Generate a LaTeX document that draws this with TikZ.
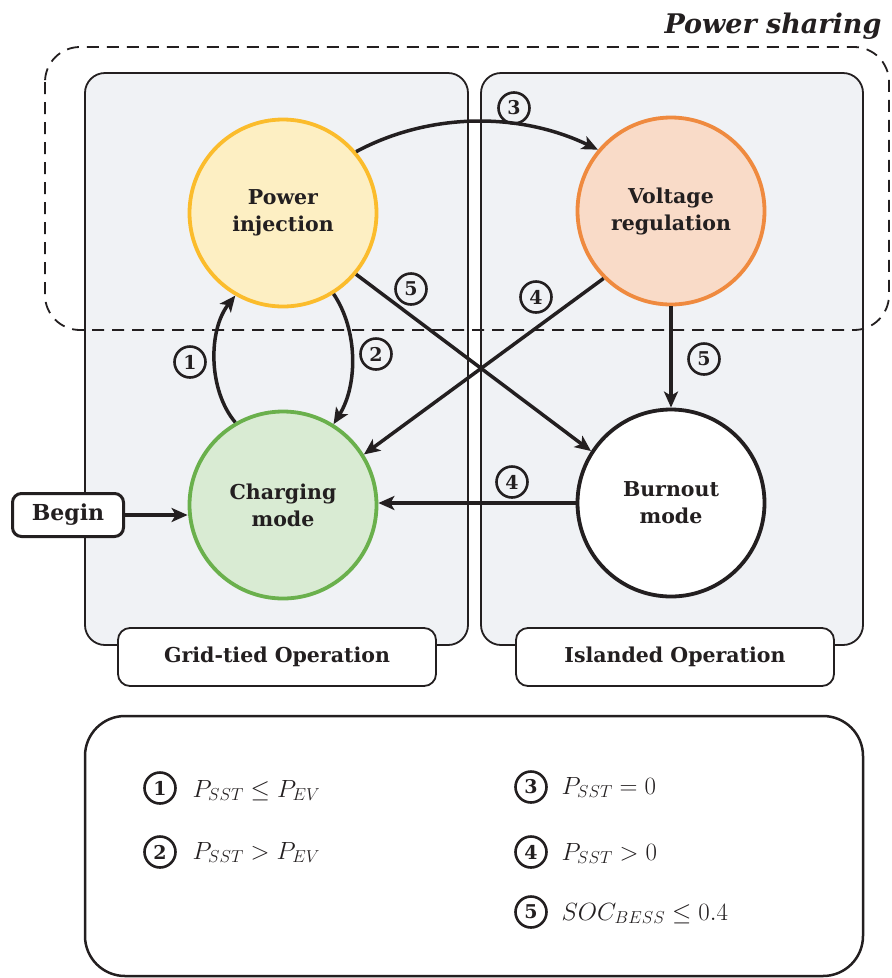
\documentclass[tikz,border=0pt]{standalone}
\usepackage[no-math]{fontspec}
\setmainfont{DejaVu Serif}
\usepackage{xcolor}
\usepackage{tikz}
\usetikzlibrary{arrows.meta,positioning}
\definecolor{PanelGray}{HTML}{F0F2F5}
\definecolor{InkDark}{HTML}{231F20}
\definecolor{InjFill}{HTML}{FDEFC3}
\definecolor{InjLine}{HTML}{FBBC2C}
\definecolor{VolFill}{HTML}{F9DBC8}
\definecolor{VolLine}{HTML}{EF8A3F}
\definecolor{ChgFill}{HTML}{D9EBD3}
\definecolor{ChgLine}{HTML}{6AB04C}
\tikzset{
  mode/.style={circle, draw, line width=3.8pt, minimum size=187pt, inner sep=0pt, align=center, font=\bfseries\fontsize{20.5}{27}\selectfont, text=InkDark},
  cond/.style={circle, draw=InkDark, line width=2.6pt, minimum size=31pt, inner sep=0pt, font=\bfseries\fontsize{19}{19}\selectfont, text=InkDark},
  trans/.style={draw=InkDark, line width=3.5pt, -{Stealth[length=16pt, width=14pt, inset=4pt]}},
  panel/.style={draw=InkDark, line width=1.8pt, fill=PanelGray, rounded corners=20pt},
  tag/.style={draw=InkDark, line width=1.8pt, fill=white, rounded corners=12pt, minimum width=318pt, minimum height=58pt, font=\bfseries\fontsize{20.5}{24}\selectfont, text=InkDark},
  eqn/.style={anchor=base west, font=\fontsize{26}{30}\selectfont, text=InkDark}
}

\begin{document}
\begin{tikzpicture}[x=1pt,y=-1pt]
\useasboundingbox (0,0) rectangle (892,978);

\draw[panel] (85,73) rectangle (468,645);
\draw[panel] (481,73) rectangle (863,645);

\node[tag] (grid) at (277,657) {Grid-tied Operation};
\node[tag] (island) at (675,657) {Islanded Operation};

\draw[InkDark, line width=1.8pt, dash pattern=on 12pt off 8pt, rounded corners=35pt] (45,47) rectangle (889,330);
\node[anchor=base east, font=\bfseries\itshape\fontsize{27}{30}\selectfont, text=InkDark] (share) at (885,33) {Power sharing};

\node[mode, draw=InjLine, fill=InjFill] (inj) at (283,213) {Power\\injection};
\node[mode, draw=VolLine, fill=VolFill] (volt) at (671,211) {Voltage\\regulation};
\node[mode, draw=ChgLine, fill=ChgFill] (chg) at (283,505) {Charging\\mode};
\node[mode, draw=InkDark, fill=white] (burn) at (671,503) {Burnout\\mode};

\node[draw=InkDark, line width=3pt, fill=white, rounded corners=9pt, minimum width=111pt, minimum height=43pt, inner sep=0pt, font=\bfseries\fontsize{22}{24}\selectfont, text=InkDark] (begin) at (68,515) {Begin};

\draw[trans] (begin) -- (chg.west |- begin);
\draw[trans] (inj.40) .. controls (430,112) and (520,112) .. (volt.140);
\draw[trans] (chg.120) .. controls (208,390) and (208,330) .. (inj.240);
\draw[trans] (inj.302) .. controls (358,330) and (358,385) .. (chg.58);
\draw[trans] (inj.-40) -- (burn.147);
\draw[trans] (volt.225) -- (chg.32);
\draw[trans] (volt) -- (burn);
\draw[trans] (burn.west) -- (chg.east |- burn.west);

\node[cond] (c3) at (514,108) {3};
\node[cond] (c5a) at (411,289) {5};
\node[cond] (c4a) at (536,297) {4};
\node[cond] (c5b) at (704,359) {5};
\node[cond] (c4b) at (512,482) {4};
\node[cond] (c1) at (190,362) {1};
\node[cond] (c2) at (376,354) {2};

\draw[InkDark, line width=2.5pt, rounded corners=40pt] (85,716) rectangle (863,976);

\node[cond] (k1) at (160,788) {1};
\node[eqn] (e1) at (189,797) {$P_{SST} \le P_{EV}$};
\node[cond] (k2) at (160,852) {2};
\node[eqn] (e2) at (189,859) {$P_{SST} > P_{EV}$};
\node[cond] (k3) at (531,787) {3};
\node[eqn] (e3) at (558,794) {$P_{SST} = 0$};
\node[cond] (k4) at (531,852) {4};
\node[eqn] (e4) at (558,860) {$P_{SST} > 0$};
\node[cond] (k5) at (531,912) {5};
\node[eqn] (e5) at (558,920) {$SOC_{BESS} \le 0.4$};
\end{tikzpicture}
\end{document}
